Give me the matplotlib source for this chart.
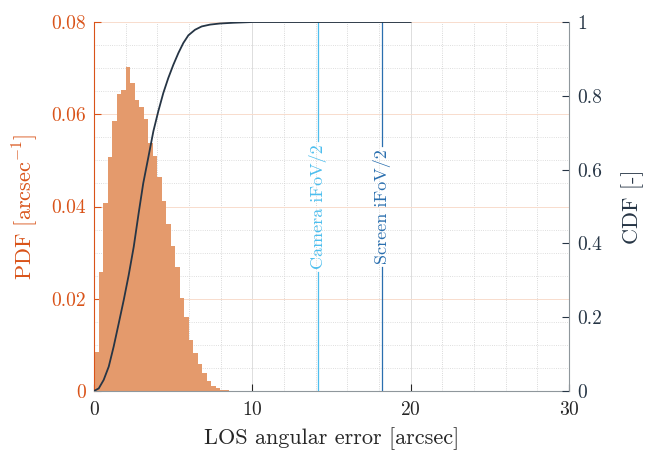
import numpy as np
import matplotlib
matplotlib.use('Agg')
import matplotlib.pyplot as plt
from matplotlib.ticker import MultipleLocator

plt.rcParams['font.family'] = 'serif'
plt.rcParams['font.serif'] = ['cmr10']
plt.rcParams['mathtext.fontset'] = 'cm'
plt.rcParams['axes.formatter.use_mathtext'] = True

# histogram of LOS angular error (bin width in arcsec, heights as PDF)
bin_width = 0.285
pdf = [0.0084, 0.0259, 0.0407, 0.0507, 0.0585, 0.0643, 0.0653, 0.0703, 0.0667,
       0.0632, 0.0616, 0.0590, 0.0537, 0.0509, 0.0465, 0.0412, 0.0362, 0.0314,
       0.0268, 0.0201, 0.0161, 0.0111, 0.0082, 0.0059, 0.0038, 0.0022, 0.0011,
       0.0006, 0.0003, 0.00015, 0.0001, 0.00006, 0.00004, 0.00002]

# CDF
cdf_x = [0, 0.30, 0.61, 0.93, 1.24, 1.56, 1.88, 2.19, 2.51, 2.82, 3.11, 3.43,
         3.75, 4.06, 4.38, 4.69, 5.01, 5.33, 5.64, 5.96, 6.38, 6.80, 7.33, 7.96,
         8.8, 10.0, 20]
cdf_y = [0, 0.007, 0.030, 0.066, 0.120, 0.183, 0.247, 0.314, 0.391, 0.482, 0.563,
         0.633, 0.704, 0.758, 0.808, 0.848, 0.884, 0.916, 0.943, 0.964, 0.979,
         0.988, 0.993, 0.996, 0.998, 1.0, 1.0]

camera_ifov = 14.15
screen_ifov = 18.2

c_pdf = '#D95319'
c_bar = '#E49A6C'
c_cdf = '#263545'
c_cam = '#4DBEEE'
c_scr = '#2A6FAF'

fig = plt.figure(figsize=(6.47, 4.54), dpi=100)
ax = fig.add_axes([0.1453, 0.1388, 0.7341, 0.8127])
ax2 = ax.twinx()

edges = np.arange(len(pdf) + 1) * bin_width
ax.stairs(pdf, edges, fill=True, color=c_bar, linewidth=0, zorder=2)

ax.set_xlim(0, 30)
ax.set_ylim(0, 0.08)
ax.xaxis.set_major_locator(MultipleLocator(10))
ax.xaxis.set_minor_locator(MultipleLocator(2))
ax.yaxis.set_major_locator(MultipleLocator(0.02))
ax.yaxis.set_minor_locator(MultipleLocator(0.005))
ax.yaxis.set_major_formatter(plt.FuncFormatter(lambda v, p: '0' if v == 0 else '%g' % v))

ax.grid(True, which='major', axis='x', color='#dddddd', lw=0.7, zorder=0)
ax.grid(True, which='minor', axis='x', color='#cccccc', lw=0.6, ls=':', zorder=0)
ax.grid(True, which='major', axis='y', color='#f8dccd', lw=0.7, zorder=0)
ax.grid(True, which='minor', axis='y', color='#d4d4d4', lw=0.6, ls=':', zorder=0)
ax.set_axisbelow(True)

ax2.plot(cdf_x, cdf_y, color=c_cdf, lw=1.3, zorder=3)
ax2.set_ylim(0, 1)
ax2.yaxis.set_major_locator(MultipleLocator(0.2))
ax2.yaxis.set_major_formatter(plt.FuncFormatter(lambda v, p: '%g' % round(v, 1)))

for a in (ax, ax2):
    a.spines['top'].set_visible(False)
ax.spines['right'].set_visible(False)
ax2.spines['left'].set_visible(False)
ax2.spines['bottom'].set_visible(False)
ax.spines['left'].set_color(c_pdf)
ax.spines['bottom'].set_color('#8f979c')
ax2.spines['right'].set_color('#8f979c')

ax.tick_params(axis='x', direction='in', length=5, colors='#262626', labelsize=14, pad=7)
ax.tick_params(axis='x', which='minor', length=0)
ax.tick_params(axis='y', direction='in', length=5, colors=c_pdf, labelsize=14, pad=6)
ax.tick_params(axis='y', which='minor', length=0)
ax2.tick_params(axis='y', direction='in', length=5, colors=c_cdf, labelsize=14, pad=6)

ax.set_xlabel('LOS angular error [arcsec]', fontsize=16, color='#262626', labelpad=6)
ax.set_ylabel(r'PDF [arcsec$^{-1}$]', fontsize=16, color=c_pdf, labelpad=8)
ax2.set_ylabel('CDF [-]', fontsize=16, color=c_cdf, labelpad=14)

# reference lines with labels breaking the line
fig.canvas.draw()
inv = ax.transData.inverted()
for xv, lab, col in [(camera_ifov, 'Camera iFoV/2', c_cam), (screen_ifov, 'Screen iFoV/2', c_scr)]:
    t = ax.text(xv, 0.04, lab, rotation=90, ha='center', va='center',
                color=col, fontsize=13, zorder=4)
    bb = t.get_window_extent(renderer=fig.canvas.get_renderer())
    lo = inv.transform((0, bb.y0 - 3))[1]
    hi = inv.transform((0, bb.y1 + 3))[1]
    ax.plot([xv, xv], [0, lo], color=col, lw=0.9, zorder=4)
    ax.plot([xv, xv], [hi, 0.08], color=col, lw=0.9, zorder=4)

fig.savefig('out.png', dpi=100)
